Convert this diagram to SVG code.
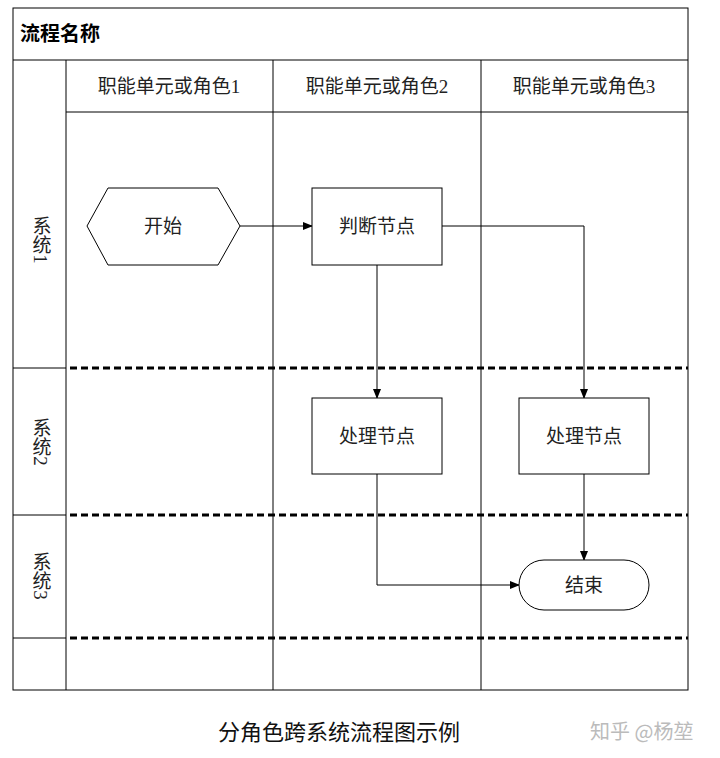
<svg xmlns="http://www.w3.org/2000/svg" width="720" height="758" viewBox="0 0 720 758">
<style>
.ln{stroke:#000;stroke-width:1;fill:none}
.dash{stroke:#000;stroke-width:3;stroke-dasharray:7,4;fill:none}
.nd{fill:#fff;stroke:#000;stroke-width:1}
.t{font-family:"Liberation Serif","Noto Sans CJK SC",serif;font-size:19px;fill:#222;text-anchor:middle;dominant-baseline:central}
.v{font-family:"Liberation Serif","Noto Sans CJK SC",serif;font-size:19px;fill:#222;writing-mode:vertical-rl;text-anchor:middle}
</style>
<defs><marker id="a" markerWidth="10" markerHeight="8" refX="9" refY="4" orient="auto" markerUnits="userSpaceOnUse"><path d="M0,0L10,4L0,8z" fill="#000"/></marker></defs>
<rect width="720" height="758" fill="#fff"/>
<g id="frame">
<rect x="13" y="8" width="675" height="682" class="ln"/>
<line x1="13" y1="60" x2="688" y2="60" class="ln"/>
<line x1="66" y1="112" x2="688" y2="112" class="ln"/>
<line x1="66" y1="60" x2="66" y2="690" class="ln"/>
<line x1="273" y1="60" x2="273" y2="690" class="ln"/>
<line x1="481" y1="60" x2="481" y2="690" class="ln"/>
<line x1="13" y1="368" x2="66" y2="368" class="ln"/>
<line x1="13" y1="515" x2="66" y2="515" class="ln"/>
<line x1="13" y1="638" x2="66" y2="638" class="ln"/>
<line x1="70" y1="368" x2="688" y2="368" class="dash"/>
<line x1="70" y1="515" x2="688" y2="515" class="dash"/>
<line x1="70" y1="638" x2="688" y2="638" class="dash"/>
<text x="20" y="34" font-family="'Liberation Serif','Noto Sans CJK SC',serif" font-size="20" font-weight="bold" dominant-baseline="central">流程名称</text>
<text x="169" y="86" class="t">职能单元或角色1</text>
<text x="377" y="86" class="t">职能单元或角色2</text>
<text x="584" y="86" class="t">职能单元或角色3</text>
<text x="40" y="240" class="v">系统1</text>
<text x="40" y="442" class="v">系统2</text>
<text x="40" y="576" class="v">系统3</text>
</g>
<g id="connectors">
<line x1="240" y1="226" x2="312" y2="226" class="ln" marker-end="url(#a)"/>
<line x1="377" y1="265" x2="377" y2="398" class="ln" marker-end="url(#a)"/>
<polyline points="442,226 584,226 584,398" class="ln" marker-end="url(#a)"/>
<polyline points="377,474 377,585 519,585" class="ln" marker-end="url(#a)"/>
<line x1="584" y1="474" x2="584" y2="560" class="ln" marker-end="url(#a)"/>
</g>
<g id="start"><polygon points="87,226 108,188 218,188 240,226 218,265 108,265" class="nd"/><text x="163" y="226" class="t">开始</text></g>
<g id="judge"><rect x="312" y="188" width="130" height="77" class="nd"/><text x="377" y="226" class="t">判断节点</text></g>
<g id="proc1"><rect x="312" y="398" width="130" height="76" class="nd"/><text x="377" y="436" class="t">处理节点</text></g>
<g id="proc2"><rect x="519" y="398" width="130" height="76" class="nd"/><text x="584" y="436" class="t">处理节点</text></g>
<g id="end"><rect x="519" y="560" width="130" height="50" rx="25" class="nd"/><text x="584" y="585" class="t">结束</text></g>
<text x="218" y="730" font-family="'Noto Sans CJK SC',sans-serif" font-size="22" fill="#111" dominant-baseline="central">分角色跨系统流程图示例</text>
<text x="590" y="730" font-family="'Noto Sans CJK SC',sans-serif" font-size="20" fill="#bbb" dominant-baseline="central">知乎 @杨堃</text>
</svg>
